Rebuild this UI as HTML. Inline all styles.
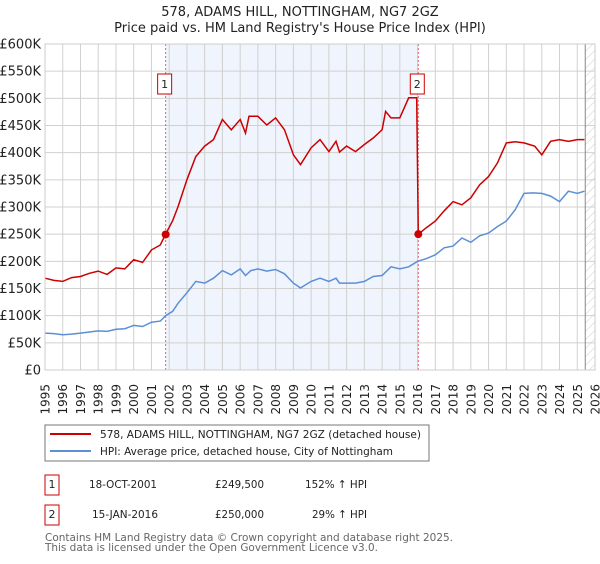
<!DOCTYPE html>
<html><head><meta charset="utf-8"><style>
body{margin:0;background:#fff;font-family:"DejaVu Sans","Liberation Sans",sans-serif;}
svg text{font-family:"DejaVu Sans","Liberation Sans",sans-serif;}
</style></head><body>
<svg id="chart" width="600" height="560" xmlns="http://www.w3.org/2000/svg">
<defs><pattern id="hatch" width="6" height="6" patternUnits="userSpaceOnUse" patternTransform="rotate(45)"><line x1="0" y1="0" x2="0" y2="6" stroke="#ccc" stroke-width="1"/></pattern></defs>
<text x="300" y="16" text-anchor="middle" font-size="13" fill="#222">578, ADAMS HILL, NOTTINGHAM, NG7 2GZ</text>
<text x="300" y="32" text-anchor="middle" font-size="13" fill="#222">Price paid vs. HM Land Registry's House Price Index (HPI)</text>
<g id="plot"></g>
<g>
<rect x="45" y="425" width="384" height="36" fill="#fff" stroke="#777"/>
<line x1="50" y1="434" x2="91" y2="434" stroke="#cc0000" stroke-width="2"/>
<text x="100" y="438" font-size="11" textLength="321" lengthAdjust="spacingAndGlyphs" fill="#222">578, ADAMS HILL, NOTTINGHAM, NG7 2GZ (detached house)</text>
<line x1="50" y1="451" x2="91" y2="451" stroke="#5b8fd6" stroke-width="2"/>
<text x="100" y="455" font-size="11" textLength="293" lengthAdjust="spacingAndGlyphs" fill="#222">HPI: Average price, detached house, City of Nottingham</text>
</g>
<g font-size="11" fill="#222">
<rect x="45" y="475" width="14" height="20" fill="#fff" stroke="#cc0000"/><text x="52" y="488" text-anchor="middle">1</text>
<text x="89" y="488" textLength="68" lengthAdjust="spacingAndGlyphs">18-OCT-2001</text><text x="215" y="488" textLength="49" lengthAdjust="spacingAndGlyphs">£249,500</text><text x="305" y="488" textLength="62" lengthAdjust="spacingAndGlyphs">152% ↑ HPI</text>
<rect x="45" y="505" width="14" height="20" fill="#fff" stroke="#cc0000"/><text x="52" y="518" text-anchor="middle">2</text>
<text x="92" y="518" textLength="66" lengthAdjust="spacingAndGlyphs">15-JAN-2016</text><text x="215" y="518" textLength="49" lengthAdjust="spacingAndGlyphs">£250,000</text><text x="312" y="518" textLength="55" lengthAdjust="spacingAndGlyphs">29% ↑ HPI</text>
</g>
<text x="45" y="541" font-size="11" textLength="408" lengthAdjust="spacingAndGlyphs" fill="#666">Contains HM Land Registry data © Crown copyright and database right 2025.</text>
<text x="45" y="551" font-size="11" textLength="333" lengthAdjust="spacingAndGlyphs" fill="#666">This data is licensed under the Open Government Licence v3.0.</text>
</svg>
<script>
const hpiYears=[1995,1995.5,1996,1996.5,1997,1997.5,1998,1998.5,1999,1999.5,2000,2000.5,2001,2001.5,2001.8,2002.2,2002.5,2003,2003.5,2004,2004.5,2005,2005.5,2006,2006.3,2006.6,2007,2007.5,2008,2008.5,2009,2009.4,2010,2010.5,2011,2011.4,2011.6,2012,2012.5,2013,2013.5,2014,2014.5,2015,2015.5,2016,2016.5,2017,2017.5,2018,2018.5,2019,2019.5,2020,2020.5,2021,2021.5,2022,2022.5,2023,2023.5,2024,2024.5,2025,2025.4];
const hpiValues=[68,67,65,66,68,70,72,71,75,76,82,80,88,90,100,108,123,142,163,160,169,183,175,186,174,183,186,182,185,177,160,151,163,169,163,169,160,160,160,163,172,174,190,186,190,200,205,212,225,228,243,235,247,252,264,274,295,325,326,325,320,310,329,325,329];
const priceYears=[1995,1995.5,1996,1996.5,1997,1997.5,1998,1998.5,1999,1999.5,2000,2000.5,2001,2001.5,2001.8,2002.2,2002.5,2003,2003.5,2004,2004.5,2005,2005.5,2006,2006.3,2006.5,2007,2007.5,2008,2008.5,2009,2009.4,2010,2010.5,2011,2011.4,2011.6,2012,2012.5,2013,2013.5,2014,2014.2,2014.5,2015,2015.5,2015.95,2016.04,2016.5,2017,2017.5,2018,2018.5,2019,2019.5,2020,2020.5,2021,2021.5,2022,2022.6,2023,2023.5,2024,2024.5,2025,2025.4];
const priceValues=[169,165,163,170,172,178,182,176,188,186,203,198,221,230,250,275,301,350,393,412,424,461,442,461,436,467,467,451,464,442,396,378,409,424,402,421,401,412,402,415,427,442,476,464,464,501,501,250,262,274,293,310,304,317,341,356,381,418,420,418,412,396,421,424,421,424,424];
const sales=[{year:2001.8,value:249.5,label:"1"},{year:2016.04,value:250,label:"2"}];
const yTicks=[0,50,100,150,200,250,300,350,400,450,500,550,600];
const xTicks=[];for(let y=1995;y<=2026;y++)xTicks.push(y);
const L=45,R=595,T=44,B=370;
const X=y=>L+(y-1995)*(R-L)/31;
const Y=v=>B-v*(B-T)/600;
const NS="http://www.w3.org/2000/svg";
const g=document.getElementById('plot');
function mk(t,a,p){const e=document.createElementNS(NS,t);for(const k in a)e.setAttribute(k,a[k]);(p||g).appendChild(e);return e;}
let e;
e=mk('rect',{x:X(sales[0].year),y:T,width:X(sales[1].year)-X(sales[0].year),height:B-T,fill:'#f0f4fd'});


e=mk('rect',{x:X(2025.45),y:T,width:R-X(2025.45),height:B-T,fill:'url(#hatch)'});


xTicks.forEach(yr=>{
 e=mk('line',{x1:X(yr),x2:X(yr),y1:T,y2:B,stroke:'#d0d0d0','stroke-width':1});
 
 
 e=mk('text',{x:0,y:0,transform:`translate(${X(yr)+4.5},384) rotate(-90)`,'text-anchor':'end','font-size':12,fill:'#222'});
 e.textContent=yr;
 
 
});
yTicks.forEach(v=>{
 e=mk('line',{x1:L,x2:R,y1:Y(v),y2:Y(v),stroke:'#d0d0d0','stroke-width':1});
 
 
 e=mk('text',{x:L-4,y:Y(v)+4.5,'text-anchor':'end','font-size':13,fill:'#222'});
 e.textContent=v===0?'£0':'£'+v+'K';
 
 
});
e=mk('line',{x1:X(2025.45),x2:X(2025.45),y1:T,y2:B,stroke:'#888','stroke-width':1});


sales.forEach(s=>{
 e=mk('line',{x1:X(s.year),x2:X(s.year),y1:T,y2:B,stroke:'#e06666','stroke-width':1,'stroke-dasharray':'2,2'});
 
 
});
const pathOf=(xs,vs)=>xs.map((x,i)=>(i?'L':'M')+X(x).toFixed(1)+','+Y(vs[i]).toFixed(1)).join('');
e=mk('path',{d:pathOf(hpiYears,hpiValues),fill:'none',stroke:'#5b8fd6','stroke-width':1.5});


e=mk('path',{d:pathOf(priceYears,priceValues),fill:'none',stroke:'#cc0000','stroke-width':1.5});


sales.forEach(s=>{
 e=mk('circle',{cx:X(s.year),cy:Y(s.value),r:4,fill:'#cc0000'});
 
 
 e=mk('rect',{x:X(s.year)-8,y:74,width:14,height:20,fill:'#fff',stroke:'#cc0000'});
 
 
 e=mk('text',{x:X(s.year)-1,y:88,'text-anchor':'middle','font-size':11,fill:'#222'});
 e.textContent=s.label;
 
 
});
e=mk('rect',{x:L,y:T,width:R-L,height:B-T,fill:'none',stroke:'#ccc'});


</script>
</body></html>
